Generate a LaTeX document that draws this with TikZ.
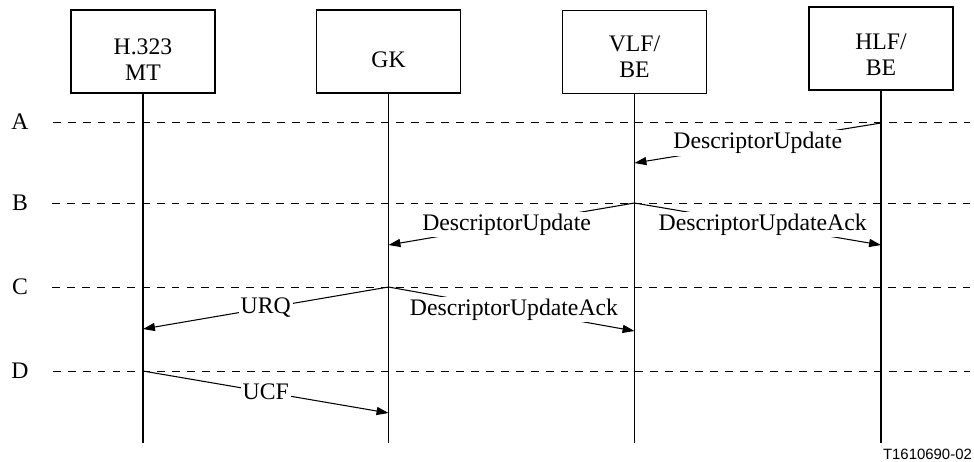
\documentclass[tikz,border=0pt]{standalone}
\usepackage{fontspec}
\setmainfont{Liberation Serif}
\newfontfamily\figidfont{Liberation Sans}
\usetikzlibrary{arrows.meta,positioning}

\begin{document}
\begin{tikzpicture}[x=0.02cm,y=-0.02cm]
	\tikzstyle{entity} = [
		draw,
		line width=0.6pt,
		minimum width=2.88cm,
		minimum height=1.66cm
	]
	\tikzstyle{entitytext} = [align=center, inner sep=0pt, font=\fontsize{13.5}{15}\selectfont]
	\tikzstyle{lifeline} = [line width=0.6pt]
	\tikzstyle{phase} = [line width=0.5pt, dash pattern=on 4.5pt off 4pt]
	\tikzstyle{msg} = [line width=0.6pt, -{Triangle[length=6.8pt,width=4.6pt]}]
	\tikzstyle{msglabel} = [fill=white, inner sep=1pt, font=\fontsize{13.5}{15}\selectfont]

	\useasboundingbox (0,0) rectangle (974,461);

	% entities
	\node (mt) [entity] at (143,51.5) {};
	\node (gk) [entity] at (388.5,51.5) {};
	\node (vlf) [entity] at (634.5,52) {};
	\node (hlf) [entity] at (881,48.5) {};

	\node (mttext) [entitytext] at ([yshift=-0.16cm]mt.center) {H.323\\MT};
	\node (gktext) [entitytext] at ([yshift=-0.16cm]gk.center) {GK};
	\node (vlftext) [entitytext] at ([yshift=-0.1cm]vlf.center) {VLF/\\BE};
	\node (hlftext) [entitytext] at ([yshift=-0.13cm]hlf.center) {HLF/\\BE};

	\coordinate (mtend) at (143,443);
	\coordinate (gkend) at (388.5,443);
	\coordinate (vlfend) at (634.5,443);
	\coordinate (hlfend) at (881,443);

	\draw [lifeline] (mt) -- (mtend);
	\draw [lifeline] (gk) -- (gkend);
	\draw [lifeline] (vlf) -- (vlfend);
	\draw [lifeline] (hlf) -- (hlfend);

	% phases
	\node (lblA) [font=\fontsize{13.5}{15}\selectfont] at (20,122) {A};
	\node (lblB) [font=\fontsize{13.5}{15}\selectfont] at (20,203) {B};
	\node (lblC) [font=\fontsize{13.5}{15}\selectfont] at (20,287) {C};
	\node (lblD) [font=\fontsize{13.5}{15}\selectfont] at (20,371) {D};

	\coordinate (endA) at (970,122);
	\coordinate (endB) at (970,203);
	\coordinate (endC) at (970,287);
	\coordinate (endD) at (970,371);

	\draw [phase] ([xshift=0.36cm]lblA.east) -- (endA);
	\draw [phase] ([xshift=0.36cm]lblB.east) -- (endB);
	\draw [phase] ([xshift=0.36cm]lblC.east) -- (endC);
	\draw [phase] ([xshift=0.36cm]lblD.east) -- (endD);

	% message ends
	\coordinate (hlfA) at (881,123);
	\coordinate (vlf1) at (634.5,163);
	\coordinate (vlfB) at (634.5,203);
	\coordinate (gk2) at (388.5,245);
	\coordinate (hlf3) at (881,245);
	\coordinate (gkC) at (388.5,287);
	\coordinate (mt4) at (143,329);
	\coordinate (vlf5) at (634.5,331);
	\coordinate (mtD) at (143,371);
	\coordinate (gk6) at (388.5,413);

	\draw [msg] (hlfA) -- node [msglabel] {DescriptorUpdate} (vlf1);
	\draw [msg] (vlfB) -- node [msglabel, pos=0.52] {DescriptorUpdate} (gk2);
	\draw [msg] (vlfB) -- node [msglabel, pos=0.52] {DescriptorUpdateAck} (hlf3);
	\draw [msg] (gkC) -- node [msglabel] {URQ} (mt4);
	\draw [msg] (gkC) -- node [msglabel, pos=0.51] {DescriptorUpdateAck} (vlf5);
	\draw [msg] (mtD) -- node [msglabel] {UCF} (gk6);

	\node (figid) [anchor=east, inner sep=1pt, font=\figidfont\fontsize{8.5}{10}\selectfont] at (974,454) {T1610690-02};
\end{tikzpicture}
\end{document}
